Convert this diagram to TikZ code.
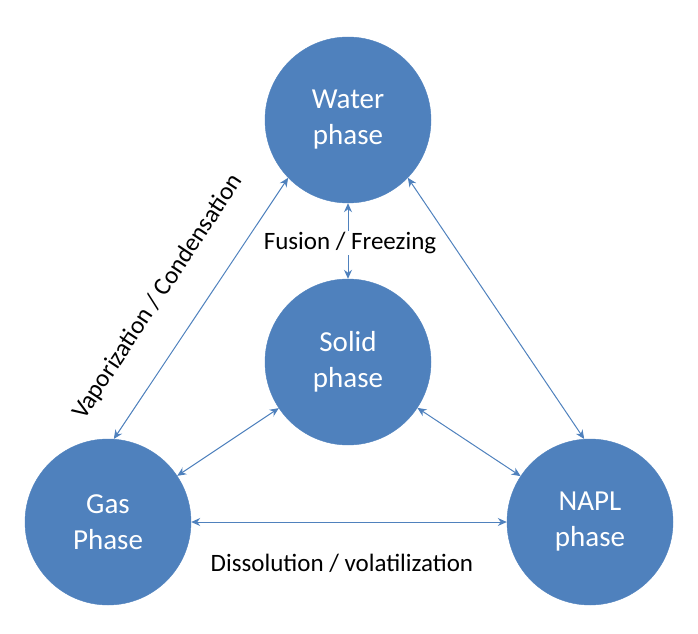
\documentclass[tikz,border=0pt]{standalone}
\usepackage{fontspec}
\setmainfont{Carlito}
\usetikzlibrary{arrows.meta}
\definecolor{phaseblue}{HTML}{4F81BD}
\begin{document}
\begin{tikzpicture}[x=1pt,y=1pt]
  \tikzset{phase/.style = {
      shape = circle,
      fill = phaseblue,
      draw = phaseblue,
      minimum size = 166pt,
      inner sep = 0pt,
      text = white,
      align = center,
      font = \fontsize{29}{36}\selectfont},
    link/.style = {draw = phaseblue, line width = 1pt,
      {Stealth[length=9pt,width=8pt]}-{Stealth[length=9pt,width=8pt]}},
    lbl/.style = {font = \fontsize{25}{30}\selectfont}}
  \useasboundingbox (0,0) rectangle (698,633);
  \node[phase] (water) at (348,513) {Water\\phase};
  \node[phase] (solid) at (348,271) {Solid\\phase};
  \node[phase] (gas) at (108,111) {Gas\\Phase};
  \node[phase] (napl) at (590,111) {NAPL\\phase};
  \draw[link] (water.224) -- (gas.86);
  \draw[link] (water.316) -- (napl.94);
  \draw[link] (water) -- (solid);
  \draw[link] (solid) -- (gas);
  \draw[link] (solid) -- (napl);
  \draw[link] (gas) -- (napl);
  \node[lbl, fill=white, inner sep=1pt] (fusion) at (350,390) {Fusion / Freezing};
  \node[lbl] (dissol) at (342,70) {Dissolution / volatilization};
  \node[lbl, rotate=56.5] (vapor) at (158,336) {Vaporization / Condensation};
\end{tikzpicture}
\end{document}
